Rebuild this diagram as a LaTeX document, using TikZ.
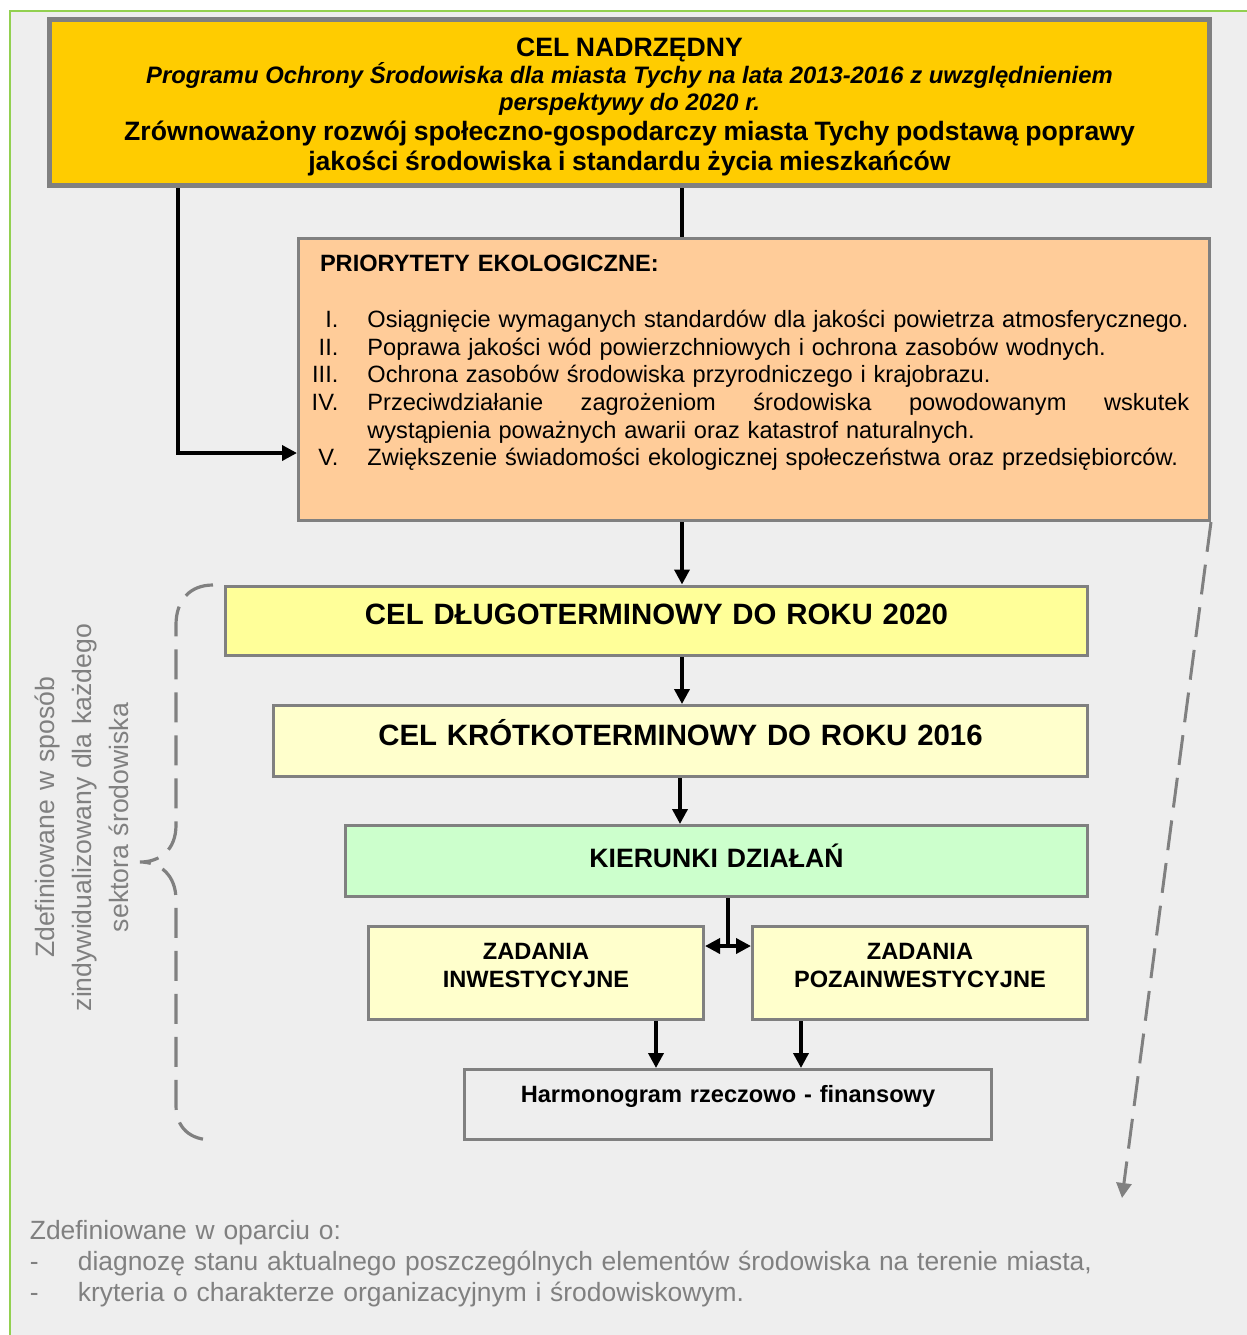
\documentclass[tikz,border=0pt]{standalone}
\usepackage{fontspec}
\setmainfont{Liberation Sans}
\usepackage{tikz}
\usetikzlibrary{arrows.meta}

\definecolor{framegreen}{RGB}{146,208,80}
\definecolor{paper}{RGB}{238,238,238}
\definecolor{boxgray}{RGB}{128,128,128}
\definecolor{txtgray}{RGB}{128,128,128}
\definecolor{celgold}{RGB}{255,204,0}
\definecolor{prioorange}{RGB}{255,204,153}
\definecolor{dlugoyellow}{RGB}{255,255,153}
\definecolor{paleyellow}{RGB}{255,255,204}
\definecolor{palegreen}{RGB}{204,255,204}

% numeral hanging to the left of a priority
\newcommand{\prionum}[1]{\leavevmode\llap{#1\hspace{14.5pt}}}

\tikzset{
    box/.style={draw=boxgray, line width=1.5pt, inner sep=0pt, align=center, anchor=north west},
    conn/.style={line width=1.8pt},
    arr/.style={conn, -{Triangle[width=7.5pt,length=7.5pt]}},
    dblarr/.style={conn, {Triangle[width=7.5pt,length=7.5pt]}-{Triangle[width=7.5pt,length=7.5pt]}},
    grayarr/.style={draw=boxgray, line width=1.5pt, dash pattern=on 15pt off 6.5pt, -{Triangle[width=7.5pt,length=7.5pt]}},
    bracestyle/.style={draw=boxgray, line width=1.6pt, dash pattern=on 15pt off 6.5pt},
}

\begin{document}
\begin{tikzpicture}[x=0.5pt, y=-0.5pt]
    \useasboundingbox (0,0) rectangle (1247,1335);

    % frame
    \fill[paper] (9,10) rectangle (1247,1335);
    \draw[framegreen, line width=1pt] (10,1335) -- (10,10.5) -- (1247,10.5);

    % CEL NADRZEDNY
    \node[box, fill=celgold, line width=2.5pt, text width=580pt, text height=18.25pt, text depth=64.75pt, font=\bfseries] (celnadrz) at (47,17) {%
        {\fontsize{13.3}{13.7}\selectfont CEL NADRZĘDNY\par}
        {\fontsize{11.9}{13.7}\selectfont\itshape Programu Ochrony Środowiska dla miasta Tychy na lata 2013-2016 z uwzględnieniem\\perspektywy do 2020 r.\par}
        {\fontsize{13.3}{15}\selectfont Zrównoważony rozwój społeczno-gospodarczy miasta Tychy podstawą poprawy\\jakości środowiska i standardu życia mieszkańców\par}};

    % priorytety
    \node[box, fill=prioorange, align=left, text width=455.5pt, text height=16.6pt, text depth=124.4pt, font=\bfseries\fontsize{11.8}{13.85}\selectfont] (prio) at (297,237) {\hspace*{10.75pt}PRIORYTETY EKOLOGICZNE:};
    \node[anchor=base west, inner sep=0pt, text width=430pt, align=left, font=\fontsize{11.8}{13.85}\selectfont] (priolist) at (367,327.3) {%
\prionum{I.}Osiągnięcie wymaganych standardów dla jakości powietrza atmosferycznego.\\
\prionum{II.}Poprawa jakości wód powierzchniowych i ochrona zasobów wodnych.\\
\prionum{III.}Ochrona zasobów środowiska przyrodniczego i krajobrazu.\\
\prionum{IV.}\makebox[411pt][s]{Przeciwdziałanie\hfill zagrożeniom\hfill środowiska\hfill powodowanym\hfill wskutek}\\
\leavevmode wystąpienia poważnych awarii oraz katastrof naturalnych.\\
\prionum{V.}Zwiększenie świadomości ekologicznej społeczeństwa oraz przedsiębiorców.};

    % cele
    \node[box, fill=dlugoyellow, text width=431pt, text height=19.15pt, text depth=15.6pt, font=\bfseries\fontsize{14.7}{17}\selectfont] (celdlugo) at (224,584.5) {CEL DŁUGOTERMINOWY DO ROKU 2020};
    \node[box, fill=paleyellow, text width=407pt, text height=19.75pt, text depth=15.75pt, font=\bfseries\fontsize{14.7}{17}\selectfont] (celkrotko) at (272,704) {CEL KRÓTKOTERMINOWY DO ROKU 2016};
    \node[box, fill=palegreen, text width=371pt, text height=20.9pt, text depth=14.6pt, font=\bfseries\fontsize{13.3}{15}\selectfont] (kierunki) at (344,824) {KIERUNKI DZIAŁAŃ};

    % zadania
    \node[box, fill=paleyellow, text width=167.5pt, text height=16.25pt, text depth=30.25pt, font=\bfseries\fontsize{11.8}{14}\selectfont] (zadinw) at (367,925) {ZADANIA\\INWESTYCYJNE};
    \node[box, fill=paleyellow, text width=167.5pt, text height=16.25pt, text depth=30.25pt, font=\bfseries\fontsize{11.8}{14}\selectfont] (zadpoza) at (751,925) {ZADANIA\\POZAINWESTYCYJNE};
    \node[box, fill=paper, text width=263.5pt, text height=16.6pt, text depth=18.4pt, font=\bfseries\fontsize{11.8}{14}\selectfont] (harmon) at (463,1068) {Harmonogram rzeczowo - finansowy};

    % connectors
    \draw[conn] (682,0 |- celnadrz.south) -- (682,0 |- prio.north);
    \draw[arr] (178,0 |- celnadrz.south) |- (prio.west |- 0,453);
    \draw[arr] (682,0 |- prio.south) -- (682,0 |- celdlugo.north);
    \draw[arr] (682,0 |- celdlugo.south) -- (682,0 |- celkrotko.north);
    \draw[arr] (680,0 |- celkrotko.south) -- (680,0 |- kierunki.north);
    \coordinate (junction) at (728,946);
    \draw[conn] (junction |- kierunki.south) -- (junction);
    \draw[dblarr] (zadinw.east |- junction) -- (zadpoza.west |- junction);
    \draw[arr] (656,0 |- zadinw.south) -- (656,0 |- harmon.north);
    \draw[arr] (801,0 |- zadpoza.south) -- (801,0 |- harmon.north);

    % dashed arrow to the note below
    \coordinate (dashend) at (1122,1198);
    \draw[grayarr] (prio.south east) -- (dashend);

    % brace
    \draw[bracestyle] (213,585) .. controls (190,585) and (176,600) .. (176,625) -- (176,825)
        .. controls (176,850) and (160,862) .. (140,862)
        .. controls (160,862) and (176,875) .. (176,900) -- (176,1105)
        .. controls (176,1128) and (190,1140) .. (213,1140);
    \node[rotate=90, text width=230pt, align=center, text=txtgray, font=\fontsize{13.3}{18.5}\selectfont] (sidenote) at (81.5,817.5) {Zdefiniowane w sposób\\zindywidualizowany dla każdego\\sektora środowiska};

    % note
    \node[anchor=base west, inner sep=0pt, text width=580pt, align=left, text=txtgray, font=\fontsize{13.2}{15.5}\selectfont] (basis) at (29.5,1239.3) {%
Zdefiniowane w oparciu o:\\
\makebox[24pt][l]{-}diagnozę stanu aktualnego poszczególnych elementów środowiska na terenie miasta,\\
\makebox[24pt][l]{-}kryteria o charakterze organizacyjnym i środowiskowym.};
\end{tikzpicture}
\end{document}
